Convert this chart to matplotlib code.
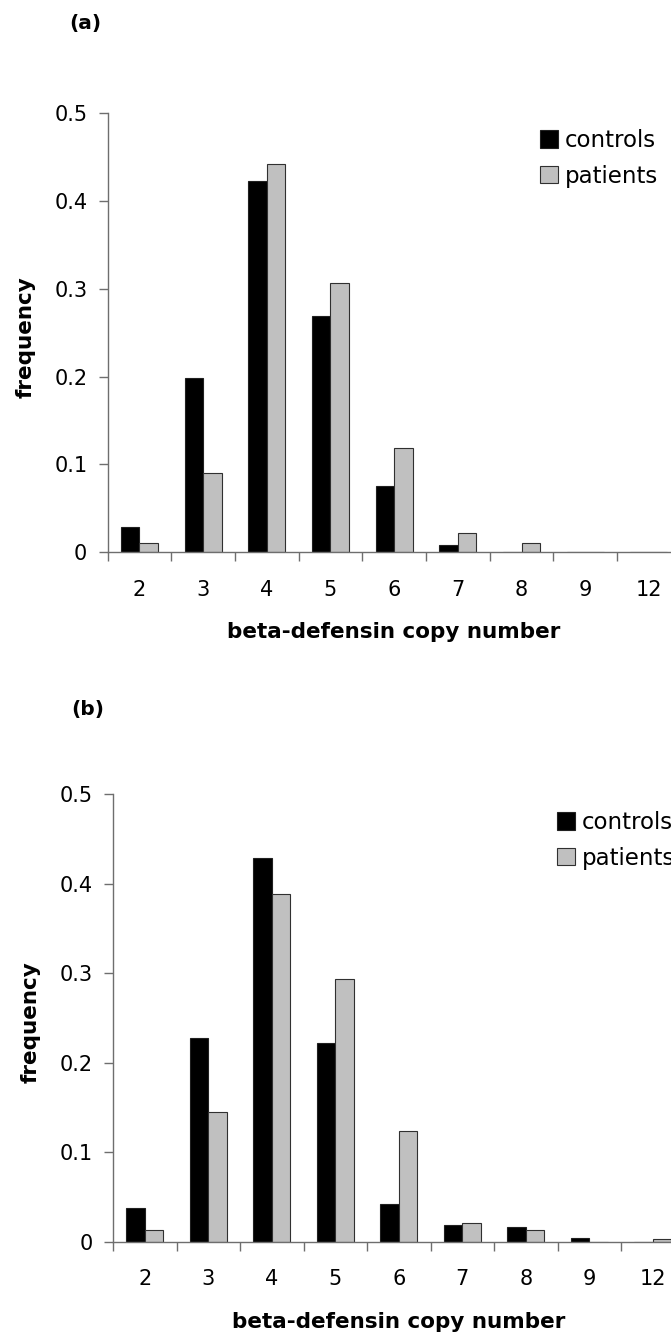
import matplotlib
matplotlib.use("Agg")
import matplotlib.pyplot as plt
import numpy as np
from matplotlib.patches import Patch

# copy number categories on the x axis
copy_numbers = ["2", "3", "4", "5", "6", "7", "8", "9", "12"]

# panel (a) frequencies
controls_a = [0.029, 0.199, 0.423, 0.269, 0.075, 0.008, 0.0, 0.0, 0.0]
patients_a = [0.011, 0.090, 0.442, 0.307, 0.119, 0.022, 0.011, 0.0, 0.0]

# panel (b) frequencies
controls_b = [0.038, 0.227, 0.429, 0.222, 0.042, 0.019, 0.016, 0.004, 0.0]
patients_b = [0.013, 0.145, 0.389, 0.294, 0.123, 0.021, 0.013, 0.0, 0.003]

yticks = [0, 0.1, 0.2, 0.3, 0.4, 0.5]
ytick_labels = ["0", "0.1", "0.2", "0.3", "0.4", "0.5"]

W, H = 671, 1339
AXIS_GREY = "#6e6e6e"
BAR_GREY = "#c0c0c0"

plt.rcParams["font.family"] = ["DejaVu Sans"]


def fx(px):
    return px / W


def fy(py):
    return 1 - py / H


def draw_panel(fig, left, top, bottom, cat_w, controls, patients, leg_xy, tag, tag_xy, ylab_x):
    n = len(copy_numbers)
    ax = fig.add_axes([fx(left), fy(bottom), fx(n * cat_w), (bottom - top) / H])
    x = np.arange(n)
    w = 0.29
    ax.bar(x - w / 2, controls, w, color="black", edgecolor="#202020", linewidth=0.8,
           label="controls", zorder=2)
    ax.bar(x + w / 2, patients, w, color=BAR_GREY, edgecolor="#303030", linewidth=0.8,
           label="patients", zorder=2)

    ax.set_xlim(-0.5, n - 0.5)
    ax.set_ylim(0, 0.5)
    for s in ["top", "right"]:
        ax.spines[s].set_visible(False)
    for s in ["left", "bottom"]:
        ax.spines[s].set_color(AXIS_GREY)
        ax.spines[s].set_linewidth(1.0)
        ax.spines[s].set_zorder(3)

    ax.set_yticks(yticks)
    ax.set_yticklabels(ytick_labels)
    ax.tick_params(axis="y", direction="out", length=6.5, width=1.0, color=AXIS_GREY,
                   labelsize=15, pad=8)

    ax.set_xticks(x)
    ax.set_xticklabels(copy_numbers)
    ax.set_xticks(np.arange(-0.5, n, 1.0), minor=True)
    ax.tick_params(axis="x", which="major", length=0, labelsize=15, pad=20)
    ax.tick_params(axis="x", which="minor", direction="out", length=6.3, width=1.0,
                   color=AXIS_GREY)

    ax.set_xlabel("beta-defensin copy number", fontsize=15.5, fontweight="bold", labelpad=16)
    fig.text(fx(ylab_x), fy((top + bottom) / 2 + 4), "frequency", rotation=90,
             ha="center", va="center", fontsize=15.5, fontweight="bold")
    fig.text(fx(tag_xy[0]), fy(tag_xy[1]), tag, ha="center", va="center",
             fontsize=14.5, fontweight="bold")

    handles = [Patch(facecolor="black", edgecolor="#202020", linewidth=0.8),
               Patch(facecolor=BAR_GREY, edgecolor="#303030", linewidth=0.8)]
    ax.legend(handles, ["controls", "patients"], loc="upper left",
              bbox_to_anchor=(fx(leg_xy[0]), fy(leg_xy[1])), bbox_transform=fig.transFigure,
              frameon=False, fontsize=16.5, borderpad=0, borderaxespad=0,
              handlelength=0.8, handleheight=0.8, handletextpad=0.3, labelspacing=0.55)
    return ax


fig = plt.figure(figsize=(W / 100, H / 100), dpi=100)

draw_panel(fig, 107.5, 113.3, 552.3, 63.7, controls_a, patients_a,
           (540, 129), "(a)", (85, 24), 26)
draw_panel(fig, 113.0, 794.3, 1241.5, 63.5, controls_b, patients_b,
           (557, 811), "(b)", (88, 709), 31)

fig.savefig("out.png", dpi=100, facecolor="white")
